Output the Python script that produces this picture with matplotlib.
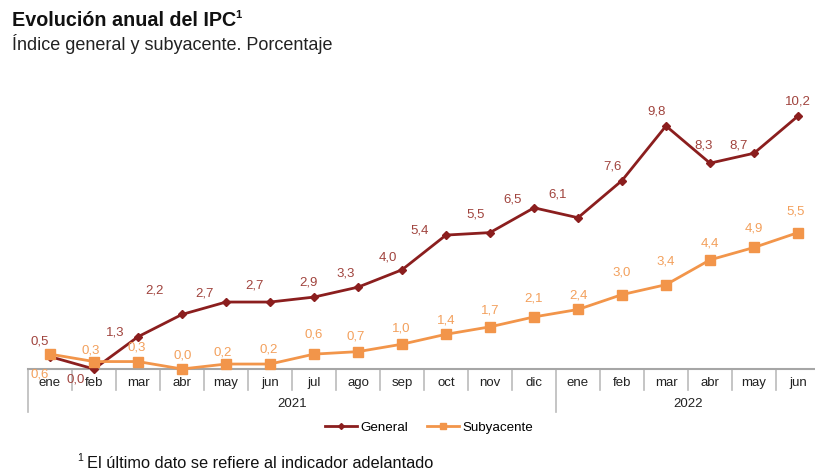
import matplotlib.pyplot as plt
import matplotlib.transforms as mtransforms
from matplotlib.lines import Line2D

plt.rcParams['font.family'] = ['Liberation Sans', 'DejaVu Sans']

# Data
months = ['ene', 'feb', 'mar', 'abr', 'may', 'jun', 'jul', 'ago', 'sep', 'oct', 'nov', 'dic',
          'ene', 'feb', 'mar', 'abr', 'may', 'jun']
years = ['2021', '2022']
general = [0.5, 0.0, 1.3, 2.2, 2.7, 2.7, 2.9, 3.3, 4.0, 5.4, 5.5, 6.5,
           6.1, 7.6, 9.8, 8.3, 8.7, 10.2]
subyacente = [0.6, 0.3, 0.3, 0.0, 0.2, 0.2, 0.6, 0.7, 1.0, 1.4, 1.7, 2.1,
              2.4, 3.0, 3.4, 4.4, 4.9, 5.5]

# label offsets (pixels, x right / y up)
gen_off = [(-10, 15), (-18, -11), (-23, 4), (-28, 24), (-22, 9), (-15, 17), (-5, 15), (-12, 14),
           (-14, 12), (-26, 5), (-14, 18), (-21, 8), (-20, 23), (-10, 14), (-9, 14), (-6, 18),
           (-15, 8), (0, 15)]
sub_off = [(-10, -20), (-3, 11), (-1, 14), (1, 14), (-3, 12), (-1, 15), (0, 20), (-2, 15),
           (-1, 16), (0, 14), (0, 16), (0, 18), (0, 14), (0, 22), (0, 23), (0, 16), (0, 19), (-2, 21)]

c_gen = '#8B1E1E'
c_gen_lab = '#A0433D'
c_sub = '#F2954A'
c_sub_lab = '#F3A05C'
grey = '#A6A6A6'

fig = plt.figure(figsize=(8.15, 4.7), dpi=100)
W, H = 815, 470
ax = fig.add_axes([28 / W, (H - 369) / H, 792 / W, 272.8 / H])

x = list(range(len(months)))
ax.plot(x, general, color=c_gen, lw=2, marker='D', ms=4, clip_on=False, zorder=3, label='General')
ax.plot(x, subyacente, color=c_sub, lw=2, marker='s', ms=6.5, clip_on=False, zorder=3, label='Subyacente')

px = 0.72
for i, v in enumerate(general):
    dx, dy = gen_off[i]
    ax.annotate(f'{v:.1f}'.replace('.', ','), (i, v), xytext=(dx * px, dy * px),
                textcoords='offset points', ha='center', va='center', fontsize=9.5, color=c_gen_lab)
for i, v in enumerate(subyacente):
    dx, dy = sub_off[i]
    ax.annotate(f'{v:.1f}'.replace('.', ','), (i, v), xytext=(dx * px, dy * px),
                textcoords='offset points', ha='center', va='center', fontsize=9.5, color=c_sub_lab)

ax.set_xlim(-0.5, len(months) - 0.5)
ax.set_ylim(0, 11)
for s in ['top', 'right', 'left']:
    ax.spines[s].set_visible(False)
ax.spines['bottom'].set_color(grey)
ax.spines['bottom'].set_linewidth(1.5)
ax.set_yticks([])
ax.set_xticks(x)
ax.set_xticklabels(months, fontsize=9.5, color='#222222')
ax.tick_params(axis='x', length=0, pad=6)

# separators between months and years
trans = mtransforms.blended_transform_factory(ax.transData, ax.transAxes)
for b in range(len(months) + 1):
    pos = b - 0.5
    long = b in (0, 12, 18)
    y1 = -0.158 if long else -0.078
    ax.add_line(Line2D([pos, pos], [0, y1], transform=trans, color='#BBBBBB', lw=1.2, clip_on=False))

ax.text(5.5, -0.128, years[0], transform=trans, ha='center', va='center', fontsize=9.5, color='#222222')
ax.text(14.5, -0.128, years[1], transform=trans, ha='center', va='center', fontsize=9.5, color='#222222')

fig.legend(loc='center', bbox_to_anchor=(429 / W, 1 - 428 / H), ncol=2, frameon=False,
           fontsize=9.6, handlelength=2.4, columnspacing=1.4, handletextpad=0.25,
           markerscale=0.75)

fig.text(12 / W, 1 - 21 / H, 'Evolución anual del IPC', fontsize=14.2, fontweight='bold',
         ha='left', va='center', color='#111111')
fig.text(235 / W, 1 - 15 / H, '1', fontsize=8, fontweight='bold',
         ha='left', va='center', color='#111111')
fig.text(12 / W, 1 - 44 / H, 'Índice general y subyacente. Porcentaje', fontsize=13,
         ha='left', va='center', color='#222222')
fig.text(77 / W, 1 - 458 / H, '1', fontsize=7.5, ha='left', va='center', color='#111111')
fig.text(87 / W, 1 - 463 / H, 'El último dato se refiere al indicador adelantado', fontsize=11.8,
         ha='left', va='center', color='#111111')

fig.savefig('out.png', dpi=100)
